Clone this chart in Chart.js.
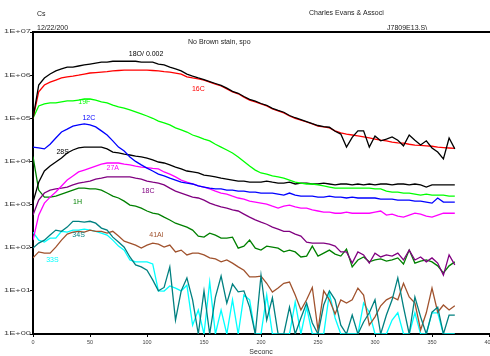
<!DOCTYPE html>
<html>
<head>
<meta charset="utf-8">
<script src="https://cdn.jsdelivr.net/npm/chart.js@4.4.1/dist/chart.umd.min.js"></script>
<style>
  html, body { margin: 0; padding: 0; background: #fff; }
  #chart { display: block; }
</style>
</head>
<body>
<canvas id="chart" width="490" height="356"></canvas>
<script>
// sputter time (s)
const seconds = [
  0, 5, 10, 15, 20, 25, 30, 35, 40, 45,
  50, 55, 60, 65, 70, 75, 80, 85, 90, 95,
  100, 105, 110, 115, 120, 125, 130, 135, 140, 145,
  150, 155, 160, 165, 170, 175, 180, 185, 190, 195,
  200, 205, 210, 215, 220, 225, 230, 235, 240, 245,
  250, 255, 260, 265, 270, 275, 280, 285, 290, 295,
  300, 305, 310, 315, 320, 325, 330, 335, 340, 345,
  350, 355, 360, 365, 370
];

// counts per series
const s18O = [
  1.0e5, 5.9e5, 8.6e5, 1.06e6, 1.25e6, 1.39e6, 1.54e6, 1.54e6, 1.63e6, 1.72e6,
  1.81e6, 1.9e6, 2.0e6, 2.0e6, 2.1e6, 2.1e6, 2.1e6, 2.1e6, 2.1e6, 2.0e6,
  2.0e6, 2.0e6, 1.81e6, 1.72e6, 1.54e6, 1.39e6, 1.25e6, 1.06e6, 9.5e5, 8.6e5,
  7.9e5, 7.1e5, 6.4e5, 5.8e5, 5.0e5, 4.2e5, 3.8e5, 3.2e5, 2.75e5, 2.5e5,
  2.2e5, 2.0e5, 1.7e5, 1.52e5, 1.38e5, 1.16e5, 1.03e5, 9.3e4, 8.4e4, 7.5e4,
  6.8e4, 6.4e4, 6.2e4, 5.0e4, 4.3e4, 2.15e4, 3.6e4, 5.1e4, 5.1e4, 2.15e4,
  3.9e4, 3.0e4, 3.3e4, 3.7e4, 3.1e4, 2.3e4, 4.1e4, 3.1e4, 2.4e4, 3.0e4,
  2.05e4, 1.65e4, 1.14e4, 3.5e4, 1.95e4
];
const s16C = [
  1.0e5, 4.1e5, 5.9e5, 6.9e5, 7.7e5, 8.6e5, 9.1e5, 9.5e5, 1.0e6, 1.06e6,
  1.12e6, 1.15e6, 1.18e6, 1.21e6, 1.25e6, 1.28e6, 1.31e6, 1.31e6, 1.31e6, 1.31e6,
  1.31e6, 1.28e6, 1.25e6, 1.21e6, 1.18e6, 1.12e6, 1.06e6, 9.1e5, 8.6e5, 8.2e5,
  7.7e5, 6.9e5, 6.2e5, 5.6e5, 4.8e5, 4.1e5, 3.7e5, 3.1e5, 2.65e5, 2.4e5,
  2.15e5, 1.93e5, 1.64e5, 1.48e5, 1.33e5, 1.13e5, 1.0e5, 9.1e4, 8.2e4, 7.4e4,
  6.6e4, 6.3e4, 6.0e4, 5.1e4, 4.6e4, 4.3e4, 4.1e4, 3.9e4, 3.7e4, 3.5e4,
  3.3e4, 3.1e4, 3.0e4, 2.8e4, 2.7e4, 2.67e4, 2.5e4, 2.4e4, 2.35e4, 2.3e4,
  2.25e4, 2.15e4, 2.1e4, 2.05e4, 2.0e4
];
const s19F = [
  1.0e5, 1.93e5, 2.15e5, 2.27e5, 2.27e5, 2.4e5, 2.52e5, 2.52e5, 2.65e5, 2.8e5,
  2.8e5, 2.65e5, 2.4e5, 2.27e5, 2.03e5, 1.83e5, 1.73e5, 1.56e5, 1.4e5, 1.26e5,
  1.13e5, 1.0e5, 8.6e4, 7.8e4, 7.0e4, 6.0e4, 5.4e4, 4.8e4, 4.1e4, 3.7e4,
  3.3e4, 3.0e4, 2.5e4, 2.15e4, 1.84e4, 1.57e4, 1.27e4, 1.0e4, 7.8e3, 6.3e3,
  5.4e3, 5.1e3, 4.6e3, 4.4e3, 4.1e3, 3.7e3, 3.3e3, 3.15e3, 3.0e3, 3.0e3,
  2.85e3, 2.7e3, 2.55e3, 2.4e3, 2.4e3, 2.4e3, 2.4e3, 2.4e3, 2.4e3, 2.4e3,
  2.3e3, 2.3e3, 2.05e3, 1.95e3, 1.95e3, 1.85e3, 1.85e3, 1.75e3, 1.66e3, 1.75e3,
  1.66e3, 1.66e3, 1.66e3, 1.57e3, 1.57e3
];
const s12C = [
  2.15e4, 2.05e4, 1.95e4, 2.5e4, 3.5e4, 4.8e4, 5.6e4, 6.6e4, 7.0e4, 7.4e4,
  7.0e4, 6.3e4, 5.1e4, 4.1e4, 3.0e4, 2.15e4, 1.74e4, 1.27e4, 1.0e4, 8.3e3,
  7.0e3, 6.0e3, 5.1e3, 4.6e3, 4.1e3, 3.7e3, 3.3e3, 3.15e3, 3.0e3, 2.7e3,
  2.55e3, 2.4e3, 2.3e3, 2.3e3, 2.17e3, 2.17e3, 2.05e3, 2.05e3, 1.95e3, 1.95e3,
  1.85e3, 1.85e3, 1.85e3, 1.75e3, 1.66e3, 1.85e3, 1.66e3, 1.57e3, 1.57e3, 1.57e3,
  1.49e3, 1.49e3, 1.57e3, 1.49e3, 1.49e3, 1.42e3, 1.49e3, 1.42e3, 1.42e3, 1.42e3,
  1.42e3, 1.34e3, 1.34e3, 1.34e3, 1.27e3, 1.27e3, 1.27e3, 1.2e3, 1.2e3, 1.14e3,
  1.08e3, 1.42e3, 1.14e3, 1.14e3, 1.14e3
];
const s28S = [
  1.14e3, 3.3e3, 6.0e3, 7.8e3, 9.7e3, 1.2e4, 1.57e4, 1.84e4, 2.05e4, 2.15e4,
  2.15e4, 2.15e4, 2.15e4, 1.95e4, 1.65e4, 1.57e4, 1.48e4, 1.41e4, 1.33e4, 1.27e4,
  1.2e4, 1.08e4, 9.7e3, 9.2e3, 8.3e3, 7.4e3, 6.7e3, 6.0e3, 5.7e3, 5.4e3,
  4.8e3, 4.6e3, 4.4e3, 4.1e3, 3.9e3, 3.7e3, 3.5e3, 3.5e3, 3.3e3, 3.3e3,
  3.3e3, 3.5e3, 3.3e3, 3.15e3, 3.15e3, 3.3e3, 3.0e3, 3.15e3, 3.15e3, 3.0e3,
  3.0e3, 3.15e3, 3.0e3, 2.85e3, 3.0e3, 3.0e3, 2.85e3, 3.0e3, 2.85e3, 3.0e3,
  2.85e3, 3.0e3, 3.0e3, 2.85e3, 3.0e3, 3.0e3, 2.85e3, 3.0e3, 2.85e3, 2.55e3,
  2.85e3, 2.85e3, 2.85e3, 2.85e3, 2.85e3
];
const s27A = [
  1.5e2, 5.7e2, 1.08e3, 1.49e3, 1.95e3, 2.7e3, 3.7e3, 4.6e3, 5.7e3, 6.3e3,
  7.0e3, 7.8e3, 8.7e3, 9.2e3, 9.2e3, 9.2e3, 8.7e3, 8.3e3, 7.8e3, 7.4e3,
  7.2e3, 6.9e3, 6.7e3, 5.7e3, 5.1e3, 4.4e3, 3.7e3, 3.3e3, 3.0e3, 2.7e3,
  2.55e3, 2.3e3, 2.05e3, 1.85e3, 1.75e3, 1.57e3, 1.42e3, 1.34e3, 1.2e3, 1.14e3,
  1.08e3, 1.03e3, 9.2e2, 8.3e2, 9.2e2, 9.7e2, 8.8e2, 8.3e2, 8.3e2, 7.5e2,
  7.1e2, 6.7e2, 6.7e2, 6.3e2, 6.3e2, 6.7e2, 6.3e2, 6.3e2, 6.3e2, 6.3e2,
  6.7e2, 7.1e2, 5.7e2, 6.0e2, 5.4e2, 5.1e2, 5.7e2, 6.3e2, 6.0e2, 5.4e2,
  5.1e2, 5.7e2, 6.3e2, 6.3e2, 6.3e2
];
const s18C = [
  5.7e2, 1.27e3, 1.85e3, 2.17e3, 2.3e3, 2.4e3, 2.55e3, 2.85e3, 3.15e3, 3.3e3,
  3.5e3, 3.9e3, 4.1e3, 4.4e3, 4.4e3, 4.4e3, 4.4e3, 4.4e3, 4.1e3, 3.9e3,
  3.5e3, 3.3e3, 3.15e3, 2.85e3, 2.4e3, 2.05e3, 1.85e3, 1.66e3, 1.49e3, 1.42e3,
  1.27e3, 1.08e3, 9.7e2, 8.8e2, 8.3e2, 7.5e2, 7.1e2, 6.0e2, 5.1e2, 4.4e2,
  3.9e2, 3.5e2, 3.0e2, 2.7e2, 2.4e2, 2.4e2, 2.07e2, 1.86e2, 1.35e2, 1.28e2,
  1.28e2, 1.28e2, 1.21e2, 1.09e2, 8.0e1, 8.0e1, 4.4e1, 8.0e1, 6.8e1, 4.4e1,
  7.5e1, 6.1e1, 6.8e1, 6.4e1, 7.5e1, 5.2e1, 8.8e1, 5.2e1, 6.1e1, 4.7e1,
  5.8e1, 4.4e1, 2.3e1, 6.8e1, 4.0e1
];
const s1H = [
  1.3e4, 2.17e3, 1.49e3, 1.49e3, 1.57e3, 1.75e3, 1.95e3, 2.17e3, 2.4e3, 2.4e3,
  2.3e3, 2.3e3, 2.17e3, 1.85e3, 1.57e3, 1.42e3, 1.2e3, 9.7e2, 9.2e2, 8.3e2,
  7.1e2, 6.3e2, 6.0e2, 5.1e2, 4.4e2, 3.7e2, 3.35e2, 3.0e2, 2.56e2, 1.86e2,
  1.76e2, 2.18e2, 1.96e2, 1.67e2, 1.67e2, 1.76e2, 9.8e1, 1.09e2, 1.5e2, 9.8e1,
  8.8e1, 1.09e2, 1.03e2, 9.8e1, 8.0e1, 8.8e1, 8.0e1, 6.1e1, 6.4e1, 1.09e2,
  6.4e1, 7.5e1, 8.8e1, 7.1e1, 6.4e1, 9.3e1, 3.6e1, 5.2e1, 6.1e1, 4.7e1,
  5.2e1, 5.5e1, 4.9e1, 5.2e1, 5.8e1, 4.2e1, 8.8e1, 4.4e1, 4.9e1, 5.2e1,
  4.7e1, 3.8e1, 2.6e1, 3.8e1, 4.7e1
];
const s34S = [
  9.8e1, 1.28e2, 1.5e2, 1.96e2, 2.56e2, 2.4e2, 3.0e2, 4.1e2, 4.1e2, 3.9e2,
  4.1e2, 3.7e2, 2.85e2, 2.56e2, 1.76e2, 1.35e2, 1.03e2, 6.1e1, 4.0e1, 3.6e1,
  3.0e1, 1.8e1, 1.0e1, 1.2e1, 3.6e1, 2.1, 1.0e1, 2.0e1, 6.2, 1,
  1.0e1, 1, 7.2, 2.2e1, 5.2, 1.44e1, 9.5, 1.0e1, 4.2, 1,
  2.3e1, 2.1, 6.9, 1, 1, 4.2, 1, 2.35, 5.2, 1.8,
  1, 4.7, 1.0e1, 6.2, 1.6, 1, 2.75, 1, 1.9, 3.1,
  6.2, 1, 2.75, 6.2, 2.0e1, 4.2, 1, 7.2, 2.5, 1,
  3.2, 4.2, 1, 2.75, 2.75
];
const s41Al = [
  5.8e1, 8.0e1, 7.5e1, 7.5e1, 1.03e2, 1.5e2, 2.07e2, 2.3e2, 2.4e2, 2.3e2,
  2.56e2, 2.4e2, 2.4e2, 2.18e2, 2.4e2, 1.86e2, 1.42e2, 1.28e2, 1.15e2, 9.8e1,
  1.15e2, 1.28e2, 1.21e2, 1.03e2, 1.15e2, 8.0e1, 8.8e1, 6.8e1, 7.5e1, 7.5e1,
  6.8e1, 5.8e1, 5.5e1, 4.7e1, 5.2e1, 4.4e1, 3.6e1, 3.0e1, 2.1e1, 2.1e1,
  2.2e1, 1.5e1, 9.4, 1.16e1, 1.5e1, 1.6e1, 8.0, 3.6, 6.2, 1.2e1,
  1.24, 1.0e1, 6.2, 2.9, 6.2, 5.2, 6.2, 1.16e1, 8.0, 1.6,
  2.5, 4.5, 6.2, 7.2, 6.2, 1.5e1, 7.2, 5.2, 1.24, 3.1,
  1.16e1, 3.2, 4.7, 3.6, 4.5
];
const s33S = [
  2.3e2, 1.5e2, 1.35e2, 1.67e2, 1.67e2, 2.4e2, 2.3e2, 2.56e2, 2.56e2, 2.7e2,
  2.56e2, 2.4e2, 2.18e2, 1.96e2, 1.5e2, 1.09e2, 8.8e1, 5.2e1, 4.7e1, 4.7e1,
  4.7e1, 4.2e1, 1.0e1, 9.9, 1.3e1, 1.16e1, 1.0e1, 1.35e1, 1.6, 3.6,
  1, 1.6e1, 1, 3.6, 1, 6.2, 1, 8.0, 6.2, 1,
  1, 8.0, 1, 1, 1, 1, 5.5, 1, 4.2, 1,
  1, 1, 8.9, 2.35, 1, 1, 1, 1, 5.2, 3.2,
  1, 1, 1, 2.1, 3.1, 1, 1, 3.1, 1, 1,
  3.1, 3.1, 1, 1, 1
];

const seriesNames = ['18O/ 0.002', '16C', '19F', '12C', '28S', '27A', '18C', '1H', '34S', '41Al', '33S'];
const seriesValues = [s18O, s16C, s19F, s12C, s28S, s27A, s18C, s1H, s34S, s41Al, s33S];
const seriesColors = ['#000000', '#ff0000', '#00ff00', '#0000ff', '#000000', '#ff00ff',
                      '#800080', '#008000', '#008080', '#a0522d', '#00ffff'];
const decadeLabels = ['1E+00', '1E+01', '1E+02', '1E+03', '1E+04', '1E+05', '1E+06', '1E+07'];

// free text on the page (pixel positions)
const headerTexts = [
  { text: 'Cs', x: 37, y: 14 },
  { text: '12/22/200', x: 37, y: 28 },
  { text: 'Charles Evans & Associ', x: 309, y: 13 },
  { text: 'J7809E13.S\\', x: 387, y: 28 },
  { text: 'No Brown stain, spo', x: 188, y: 42 }
];
// series name labels, anchored in data coordinates (seconds, counts)
const labelAnchors = [
  { t: 84, v: 3.1e6, align: 'left' },
  { t: 145, v: 4.8e5, align: 'center' },
  { t: 45, v: 2.4e5, align: 'center' },
  { t: 49, v: 1.0e5, align: 'center' },
  { t: 26, v: 1.65e4, align: 'center' },
  { t: 70, v: 7.0e3, align: 'center' },
  { t: 101, v: 2.05e3, align: 'center' },
  { t: 39, v: 1.14e3, align: 'center' },
  { t: 40, v: 1.96e2, align: 'center' },
  { t: 102, v: 1.96e2, align: 'left' },
  { t: 17, v: 5.2e1, align: 'center' }
];

const FONT = '"Liberation Sans", Arial, sans-serif';

const datasets = seriesNames.map((name, i) => ({
  label: name,
  data: seconds.map((t, j) => ({ x: t, y: seriesValues[i][j] })),
  borderColor: seriesColors[i],
  borderWidth: 1.3,
  pointRadius: 0,
  tension: 0,
  fill: false
}));

const textPlugin = {
  id: 'pageText',
  afterDraw(chart) {
    const ctx = chart.ctx;
    const area = chart.chartArea;
    const xs = chart.scales.x, ys = chart.scales.y;
    ctx.save();

    // top frame line
    ctx.strokeStyle = '#000';
    ctx.lineWidth = 2;
    ctx.beginPath();
    ctx.moveTo(area.left - 1, area.top);
    ctx.lineTo(chart.width, area.top);
    ctx.stroke();

    // decade labels (wide, flat glyphs)
    ctx.fillStyle = '#444';
    ctx.textAlign = 'right';
    ctx.textBaseline = 'middle';
    ctx.font = '5px ' + FONT;
    decadeLabels.forEach((lab, k) => {
      const py = ys.getPixelForValue(Math.pow(10, k));
      ctx.save();
      ctx.translate(area.left - 2, py);
      ctx.scale(1.85, 1);
      ctx.fillText(lab, 0, 0);
      ctx.restore();
    });

    // header texts
    ctx.fillStyle = '#222';
    ctx.textAlign = 'left';
    ctx.font = '7px ' + FONT;
    headerTexts.forEach(h => ctx.fillText(h.text, h.x, h.y));

    // series labels
    seriesNames.forEach((name, i) => {
      const a = labelAnchors[i];
      ctx.fillStyle = seriesColors[i];
      ctx.textAlign = a.align;
      ctx.fillText(name, xs.getPixelForValue(a.t), ys.getPixelForValue(a.v));
    });
    ctx.restore();
  }
};

new Chart(document.getElementById('chart').getContext('2d'), {
  type: 'line',
  data: { datasets: datasets },
  options: {
    responsive: false,
    animation: false,
    devicePixelRatio: 1,
    layout: { padding: { top: 32, right: 1, left: 0, bottom: 0 } },
    plugins: { legend: { display: false }, tooltip: { enabled: false } },
    scales: {
      x: {
        type: 'linear',
        min: 0,
        max: 400,
        ticks: { stepSize: 50, font: { size: 5.5, family: FONT }, color: '#444', padding: 2, maxRotation: 0 },
        grid: { display: true, drawOnChartArea: false, drawTicks: true, tickLength: 3, color: '#000' },
        border: { display: true, color: '#000', width: 2 },
        title: { display: true, text: 'Seconc', font: { size: 7, family: FONT }, color: '#333', padding: 0 },
        afterFit(s) { s.height = 22; s.paddingLeft = 0; s.paddingRight = 0; }
      },
      y: {
        type: 'logarithmic',
        min: 1,
        max: 1e7,
        ticks: { autoSkip: false, callback: () => '', padding: 0 },
        grid: {
          display: true, drawOnChartArea: false, drawTicks: true, tickLength: 3,
          color: (c) => {
            const v = c.tick ? c.tick.value : 0;
            return Math.abs(Math.log10(v) - Math.round(Math.log10(v))) < 1e-6 ? '#000' : 'rgba(0,0,0,0)';
          }
        },
        border: { display: true, color: '#000', width: 2 },
        afterFit(s) { s.width = 33; s.paddingTop = 0; s.paddingBottom = 0; }
      }
    }
  },
  plugins: [textPlugin]
});
</script>
</body>
</html>
